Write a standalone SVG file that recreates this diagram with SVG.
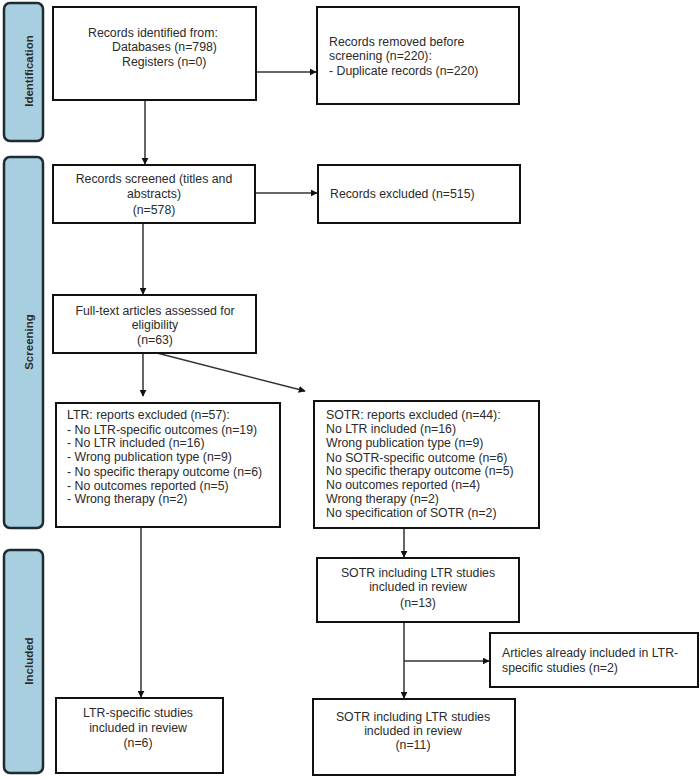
<svg xmlns="http://www.w3.org/2000/svg" width="700" height="780" viewBox="0 0 700 780">
<style>
.bar{fill:#a8cfe0;stroke:#1d2b33;stroke-width:2.5}
.box{fill:#fff;stroke:#111;stroke-width:2}
.t{font-family:"Liberation Sans",Arial,sans-serif;font-size:12.3px;fill:#2b2b2b}
.c{text-anchor:middle}
.lab{font-family:"Liberation Sans",Arial,sans-serif;font-size:11.5px;font-weight:bold;fill:#2b2b2b;text-anchor:middle}
.ln{stroke:#333;stroke-width:1.5;fill:none}
</style>
<defs>
<marker id="ah" viewBox="0 0 10 10" refX="9" refY="5" markerWidth="7" markerHeight="7" markerUnits="userSpaceOnUse" orient="auto">
<path d="M0,0 L10,5 L0,10 z" fill="#111"/>
</marker>
</defs>
<rect x="0" y="0" width="700" height="780" fill="#fff"/>
<g id="phase-identification">
<rect class="bar" x="4" y="3" width="39" height="138" rx="6"/>
<text class="lab" transform="translate(33,71) rotate(-90)">Identification</text>
</g>
<g id="phase-screening">
<rect class="bar" x="4" y="157" width="39" height="371" rx="6"/>
<text class="lab" transform="translate(33,342) rotate(-90)">Screening</text>
</g>
<g id="phase-included">
<rect class="bar" x="4" y="550" width="39" height="223" rx="6"/>
<text class="lab" transform="translate(33,661) rotate(-90)">Included</text>
</g>
<g id="connectors">
<line class="ln" x1="256" y1="72" x2="316" y2="72" marker-end="url(#ah)"/>
<line class="ln" x1="145" y1="100" x2="145" y2="164" marker-end="url(#ah)"/>
<line class="ln" x1="255" y1="193" x2="317" y2="193" marker-end="url(#ah)"/>
<line class="ln" x1="143" y1="223" x2="143" y2="294" marker-end="url(#ah)"/>
<line class="ln" x1="143" y1="353" x2="143" y2="396" marker-end="url(#ah)"/>
<line class="ln" x1="157" y1="353" x2="305" y2="391" marker-end="url(#ah)"/>
<line class="ln" x1="404" y1="528" x2="404" y2="557" marker-end="url(#ah)"/>
<line class="ln" x1="404" y1="622" x2="404" y2="698" marker-end="url(#ah)"/>
<line class="ln" x1="404" y1="661" x2="489" y2="661" marker-end="url(#ah)"/>
<line class="ln" x1="141" y1="527" x2="141" y2="697" marker-end="url(#ah)"/>
</g>
<g id="n-identified">
<rect class="box" x="53" y="7" width="203" height="93"/>
<text class="t" x="88" y="37">Records identified from:</text>
<text class="t" x="112" y="51">Databases (n=798)</text>
<text class="t" x="122" y="66">Registers (n=0)</text>
</g>
<g id="n-removed">
<rect class="box" x="317" y="7" width="202" height="97"/>
<text class="t" x="329" y="46">Records removed before</text>
<text class="t" x="329" y="60">screening (n=220):</text>
<text class="t" x="329" y="75">- Duplicate records (n=220)</text>
</g>
<g id="n-screened">
<rect class="box" x="53" y="165" width="202" height="58"/>
<text class="t c" x="154" y="183">Records screened (titles and</text>
<text class="t c" x="154" y="198">abstracts)</text>
<text class="t c" x="154" y="214">(n=578)</text>
</g>
<g id="n-excluded">
<rect class="box" x="318" y="165" width="202" height="58"/>
<text class="t" x="330" y="198">Records excluded (n=515)</text>
</g>
<g id="n-fulltext">
<rect class="box" x="53" y="295" width="203" height="58"/>
<text class="t c" x="155" y="315">Full-text articles assessed for</text>
<text class="t c" x="155" y="329">eligibility</text>
<text class="t c" x="155" y="344">(n=63)</text>
</g>
<g id="n-ltr-excluded">
<rect class="box" x="56" y="403" width="224" height="124"/>
<text class="t" x="67" y="419">LTR: reports excluded (n=57):</text>
<text class="t" x="67" y="434">- No LTR-specific outcomes (n=19)</text>
<text class="t" x="67" y="447">- No LTR included (n=16)</text>
<text class="t" x="67" y="461">- Wrong publication type (n=9)</text>
<text class="t" x="67" y="476">- No specific therapy outcome (n=6)</text>
<text class="t" x="67" y="490">- No outcomes reported (n=5)</text>
<text class="t" x="67" y="503">- Wrong therapy (n=2)</text>
</g>
<g id="n-sotr-excluded">
<rect class="box" x="314" y="401" width="225" height="127"/>
<text class="t" x="326" y="419">SOTR: reports excluded (n=44):</text>
<text class="t" x="326" y="433">No LTR included (n=16)</text>
<text class="t" x="326" y="447">Wrong publication type (n=9)</text>
<text class="t" x="326" y="462">No SOTR-specific outcome (n=6)</text>
<text class="t" x="326" y="475">No specific therapy outcome (n=5)</text>
<text class="t" x="326" y="489">No outcomes reported (n=4)</text>
<text class="t" x="326" y="503">Wrong therapy (n=2)</text>
<text class="t" x="326" y="517">No specification of SOTR (n=2)</text>
</g>
<g id="n-sotr-13">
<rect class="box" x="317" y="558" width="202" height="64"/>
<text class="t c" x="418" y="577">SOTR including LTR studies</text>
<text class="t c" x="418" y="591">included in review</text>
<text class="t c" x="418" y="607">(n=13)</text>
</g>
<g id="n-already">
<rect class="box" x="490" y="633" width="208" height="54"/>
<text class="t" x="502" y="657">Articles already included in LTR-</text>
<text class="t" x="502" y="672">specific studies (n=2)</text>
</g>
<g id="n-sotr-11">
<rect class="box" x="313" y="699" width="202" height="76"/>
<text class="t c" x="413" y="721">SOTR including LTR studies</text>
<text class="t c" x="413" y="735">included in review</text>
<text class="t c" x="413" y="749">(n=11)</text>
</g>
<g id="n-ltr-6">
<rect class="box" x="56" y="698" width="167" height="75"/>
<text class="t c" x="138" y="717">LTR-specific studies</text>
<text class="t c" x="138" y="732">included in review</text>
<text class="t c" x="138" y="747">(n=6)</text>
</g>
</svg>
